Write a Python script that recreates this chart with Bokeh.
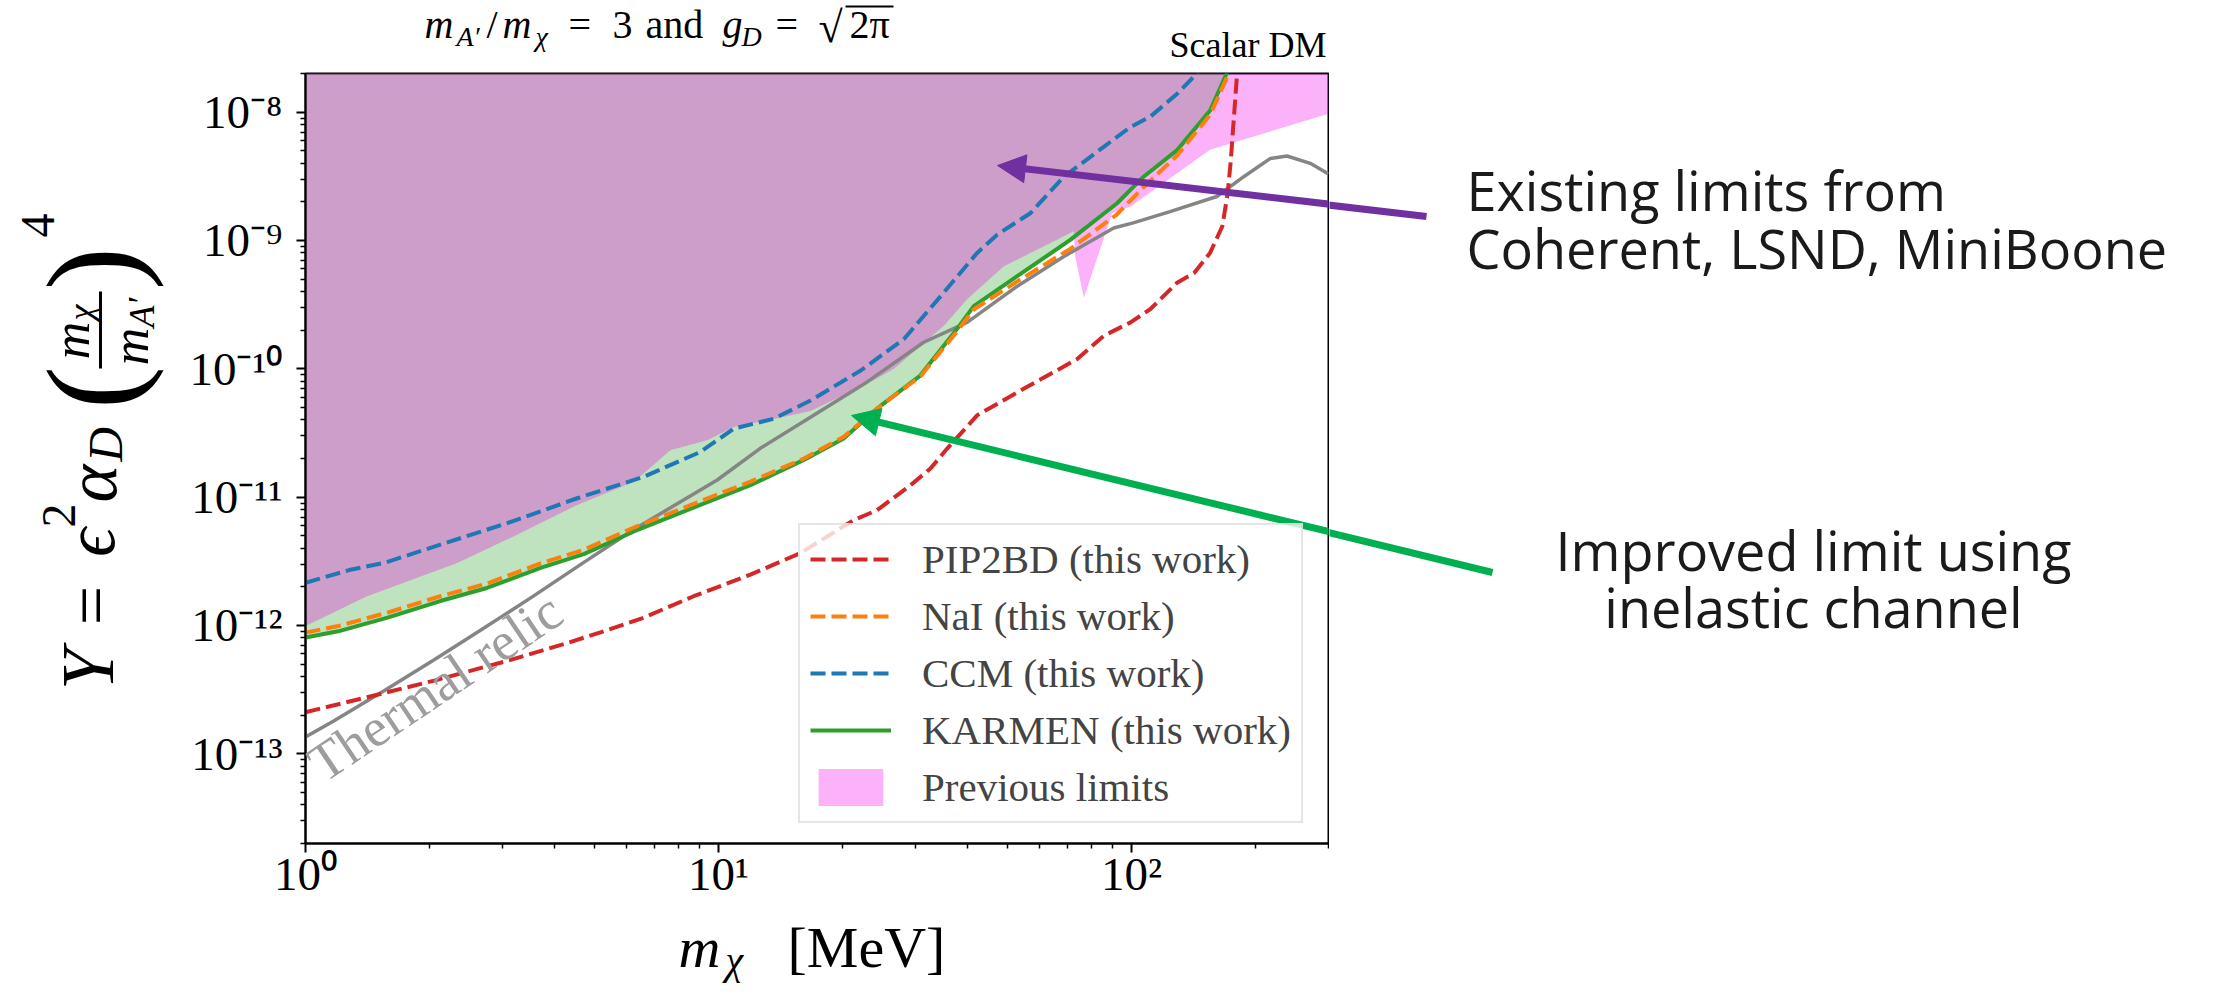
from bokeh.plotting import figure
from bokeh.layouts import column, row
from bokeh.models import (Range1d, FixedTicker, CustomJSTickFormatter, Label, Arrow,
                          NormalHead, Legend, LegendItem)
from bokeh.embed import file_html
from bokeh.resources import INLINE

# ---------------- data ----------------
karmen_x = [1.0, 1.2, 1.58, 2.12, 2.75, 3.71, 4.72, 6.24, 9.04, 11.95, 16.1, 20.1, 24.2,
            30.8, 37.8, 41.5, 52.9, 71.1, 92.3, 107, 129, 155, 170, 176]
karmen_y = [8.05e-13, 9.0e-13, 1.15e-12, 1.55e-12, 1.96e-12, 2.81e-12, 3.6e-12, 5.4e-12,
            8.7e-12, 1.24e-11, 1.95e-11, 2.86e-11, 4.89e-11, 8.85e-11, 2.04e-10, 3.08e-10,
            5.27e-10, 1.01e-9, 1.95e-9, 3.14e-9, 5.06e-9, 1.03e-8, 2.0e-8, 3.0e-8]

nai_x = [1.0, 1.2, 1.58, 2.12, 2.75, 3.71, 4.72, 6.24, 9.04, 11.95, 16.1, 20.1, 24.2,
         30.8, 37.8, 41.5, 52.9, 71.1, 92.3, 107, 129, 155, 172, 178]
nai_y = [8.8e-13, 9.9e-13, 1.26e-12, 1.69e-12, 2.12e-12, 3.05e-12, 3.89e-12, 5.8e-12,
         9.3e-12, 1.32e-11, 2.0e-11, 2.95e-11, 4.9e-11, 8.7e-11, 1.95e-10, 2.9e-10,
         4.8e-10, 8.6e-10, 1.6e-9, 2.6e-9, 4.6e-9, 9.5e-9, 2.0e-8, 3.0e-8]

ccm_x = [1.0, 1.285, 1.55, 2.12, 3.08, 4.55, 6.59, 9.04, 10.9, 13.6, 16.7, 22.1, 28.1,
         35.1, 42.3, 47.3, 56.9, 68.6, 85.7, 99.5, 111, 129, 144, 152]
ccm_y = [2.15e-12, 2.72e-12, 3.07e-12, 4.26e-12, 6.27e-12, 9.8e-12, 1.44e-11, 2.25e-11,
         3.42e-11, 4.08e-11, 5.66e-11, 9.7e-11, 1.70e-10, 3.92e-10, 8.0e-10, 1.11e-9,
         1.63e-9, 3.14e-9, 5.37e-9, 7.67e-9, 9.2e-9, 1.39e-8, 2.0e-8, 2.6e-8]

pip2bd_x = [1.0, 1.41, 2.05, 3.08, 4.22, 5.38, 6.59, 8.71, 11.95, 15.8, 21.3, 24.2, 29.2,
            32.6, 35.8, 42.3, 54.8, 73.9, 85.7, 99.5, 111, 129, 142, 155, 166, 171, 174,
            180, 182]
pip2bd_y = [2.11e-13, 2.76e-13, 3.72e-13, 5.3e-13, 7.15e-13, 9.2e-13, 1.15e-12, 1.69e-12,
            2.49e-12, 3.67e-12, 6.65e-12, 7.9e-12, 1.24e-11, 1.67e-11, 2.39e-11, 4.34e-11,
            6.98e-11, 1.19e-10, 1.81e-10, 2.30e-10, 2.91e-10, 4.69e-10, 5.6e-10, 8.0e-10,
            1.29e-9, 2.33e-9, 4.2e-9, 1.9e-8, 3.0e-8]

relic_x = [1.0, 1.17, 1.55, 2.05, 2.70, 3.57, 4.72, 6.24, 9.93, 12.6, 16.7, 22.5, 31.4,
           40, 52.9, 68.6, 90.6, 101, 124, 161, 187, 217, 238, 271, 300]
relic_y = [1.35e-13, 1.8e-13, 3.1e-13, 5.4e-13, 9.5e-13, 1.7e-12, 3.1e-12, 5.6e-12,
           1.36e-11, 2.39e-11, 4.2e-11, 7.6e-11, 1.61e-10, 2.30e-10, 4.4e-10, 7.5e-10,
           1.25e-9, 1.37e-9, 1.68e-9, 2.20e-9, 3.14e-9, 4.36e-9, 4.55e-9, 3.99e-9, 3.3e-9]

prev_x = [1.0, 1.41, 2.33, 3.19, 4.55, 6.24, 7.65, 9.39, 10.9, 13.1, 16.7, 22.9, 26.6,
          35.1, 40.0, 49.1, 61.4, 72.5, 73.1, 76.7, 89.8, 99.5, 155, 300]
prev_y = [9.9e-13, 1.69e-12, 3.07e-12, 4.94e-12, 8.7e-12, 1.32e-11, 2.32e-11, 2.77e-11,
          3.52e-11, 3.96e-11, 4.7e-11, 7.6e-11, 1.0e-10, 2.16e-10, 3.48e-10, 6.3e-10,
          9.0e-10, 1.18e-9, 7.5e-10, 3.58e-10, 1.63e-9, 1.84e-9, 5.1e-9, 9.7e-9]

x_ticks = [1, 10, 100]
x_tick_labels = ["10\u2070", "10\u00b9", "10\u00b2"]
y_ticks = [1e-13, 1e-12, 1e-11, 1e-10, 1e-9, 1e-8]
y_tick_labels = ["10\u207b\u00b9\u00b3", "10\u207b\u00b9\u00b2", "10\u207b\u00b9\u00b9",
                 "10\u207b\u00b9\u2070", "10\u207b\u2079", "10\u207b\u2078"]
legend_labels = ["PIP2BD (this work)", "NaI (this work)", "CCM (this work)",
                 "KARMEN (this work)", "Previous limits"]
relic_label = "Thermal relic"
X_MIN, X_MAX = 1, 300
Y_MIN, Y_MAX = 2e-14, 2e-8
FILL_TOP = 1e-7

SERIF = "Liberation Serif"
SANS = "Open Sans"
PURPLE = "#7030a0"
GREEN = "#00b050"

# ---------------- page geometry (pixels) ----------------
W, H = 2214, 992
TOP_H = 72                 # title strip
LEFT_W = 170               # y-label strip
FL, FR, FT, FB = 305, 1328, 73, 843     # frame edges on the page
BOT_BORDER = 68
MAIN_W = (FL - LEFT_W) + (FR - FL) + 1
MID_H = 1 + (FB - FT) + BOT_BORDER
BOT_Y = TOP_H + MID_H
RIGHT_X = LEFT_W + MAIN_W


def canvas_fig(w, h):
    f = figure(frame_width=w, frame_height=h, x_range=Range1d(0, w), y_range=Range1d(h, 0),
               min_border=0, min_border_left=0, min_border_right=0, min_border_top=0,
               min_border_bottom=0, x_axis_location=None, y_axis_location=None,
               title=None, output_backend="svg", toolbar_location=None)
    f.xgrid.visible = False
    f.ygrid.visible = False
    f.outline_line_color = None
    return f


def lab(f, x0, y0, X, Y, text, size, font=SERIF, style="normal", angle=0.0,
        align="left", color="black"):
    # Y is the vertical middle of the text line on the page
    f.add_layout(Label(x=X - x0, y=Y - y0, text=text, text_font=font,
                       text_font_style=style, text_font_size=f"{size}px", angle=angle,
                       text_align=align, text_baseline="middle", text_color=color))


def seg(f, x0, y0, X0, Y0, X1, Y1, color, width, head=None):
    f.add_layout(Arrow(x_start=X0 - x0, y_start=Y0 - y0, x_end=X1 - x0, y_end=Y1 - y0,
                       start=None, end=head, line_color=color, line_width=width))


# ---------------- main plot ----------------
p = figure(x_axis_type="log", y_axis_type="log",
           x_range=Range1d(X_MIN, X_MAX), y_range=Range1d(Y_MIN, Y_MAX),
           frame_width=FR - FL, frame_height=FB - FT,
           min_border_left=FL - LEFT_W, min_border_right=1, min_border_top=1,
           min_border_bottom=BOT_BORDER, output_backend="svg", toolbar_location=None)
p.xgrid.visible = False
p.ygrid.visible = False
p.outline_line_color = "black"
p.outline_line_width = 2

x_minor = [m * 10 ** k for k in range(0, 3) for m in range(2, 10) if m * 10 ** k <= X_MAX]
y_minor = [m * 10.0 ** k for k in range(-14, -7) for m in range(2, 10)
           if Y_MIN <= m * 10.0 ** k <= Y_MAX]
p.xaxis.ticker = FixedTicker(ticks=x_ticks, minor_ticks=x_minor)
p.yaxis.ticker = FixedTicker(ticks=y_ticks, minor_ticks=y_minor)

code = """
let best = 0, bd = 1e9;
for (let i = 0; i < vals.length; i++) {
  const d = Math.abs(Math.log10(tick) - Math.log10(vals[i]));
  if (d < bd) { bd = d; best = i; }
}
return bd < 0.01 ? labs[best] : "";
"""
p.xaxis.formatter = CustomJSTickFormatter(args=dict(vals=x_ticks, labs=x_tick_labels), code=code)
p.yaxis.formatter = CustomJSTickFormatter(args=dict(vals=y_ticks, labs=y_tick_labels), code=code)

for ax in (p.xaxis[0], p.yaxis[0]):
    ax.major_label_text_font = SERIF
    ax.major_label_text_font_size = "47px"
    ax.major_label_text_color = "black"
    ax.major_tick_in = 0
    ax.major_tick_out = 9
    ax.minor_tick_in = 0
    ax.minor_tick_out = 5
    ax.major_tick_line_width = 2
    ax.minor_tick_line_width = 1.5
    ax.axis_line_width = 2
p.xaxis.major_label_standoff = -5
p.yaxis.major_label_standoff = 14

p.varea(x=karmen_x, y1=karmen_y, y2=[FILL_TOP] * len(karmen_x),
        fill_color="#2ca02c", fill_alpha=0.3)
prev = p.varea(x=prev_x, y1=prev_y, y2=[FILL_TOP] * len(prev_x),
               fill_color="#f200e8", fill_alpha=0.3)

p.line(relic_x, relic_y, line_color="#858585", line_width=3.5)
r_karmen = p.line(karmen_x, karmen_y, line_color="#2ca02c", line_width=4)
r_nai = p.line(nai_x, nai_y, line_color="#ff7f0e", line_width=4, line_dash="15 6")
r_ccm = p.line(ccm_x, ccm_y, line_color="#1f77b4", line_width=4, line_dash="15 6")
r_pip = p.line(pip2bd_x, pip2bd_y, line_color="#d62728", line_width=4, line_dash="15 6")

p.add_layout(Label(x=2.06, y=3.3e-13, text=relic_label, angle=0.593,
                   text_font=SERIF, text_font_size="54px", text_color="#9d9d9d",
                   text_align="center", text_baseline="middle"))

legend = Legend(items=[LegendItem(label=legend_labels[0], renderers=[r_pip]),
                       LegendItem(label=legend_labels[1], renderers=[r_nai]),
                       LegendItem(label=legend_labels[2], renderers=[r_ccm]),
                       LegendItem(label=legend_labels[3], renderers=[r_karmen]),
                       LegendItem(label=legend_labels[4], renderers=[prev])],
                location=(493, 20), orientation="vertical",
                label_text_font=SERIF, label_text_font_size="41px",
                glyph_width=81, glyph_height=46, label_height=46, label_standoff=31,
                spacing=9, padding=10, margin=0,
                border_line_color="#cccccc", border_line_width=2,
                background_fill_color="white", background_fill_alpha=0.8)
p.add_layout(legend, "center")

# arrows: the part with the head inside the frame (frame-relative screen pixels)
ARROWS = [(1426, 215, 997, 165, PURPLE), (1492, 571, 851, 415, GREEN)]
for (tx, ty, hx, hy, col) in ARROWS:
    p.add_layout(Arrow(x_start=tx - FL, y_start=FB - ty, x_end=hx - FL, y_end=FB - hy,
                       start_units="screen", end_units="screen", start=None,
                       end=NormalHead(size=28, fill_color=col, line_color=col, line_width=1),
                       line_color=col, line_width=7))

# ---------------- title strip ----------------
top = canvas_fig(W, TOP_H)
for X, Y, txt, sz, st in [(424, 24, "m", 40, "italic"), (456, 36, "A\u2032", 28, "italic"),
                          (486, 24, "/", 40, "normal"), (502, 24, "m", 40, "italic"),
                          (535, 36, "\u03c7", 28, "italic"), (568, 24, "=", 40, "normal"),
                          (612, 24, "3", 40, "normal"), (645, 24, "and", 40, "normal"),
                          (722, 24, "g", 40, "italic"), (741, 36, "D", 28, "italic"),
                          (775, 24, "=", 40, "normal"), (818, 27, "\u221a", 44, "normal"),
                          (849, 24, "2\u03c0", 40, "normal")]:
    lab(top, 0, 0, X, Y, txt, sz, style=st)
seg(top, 0, 0, 845, 6, 893, 6, "black", 2)
lab(top, 0, 0, 1326, 44, "Scalar DM", 36, align="right")

# ---------------- y-label strip ----------------
left = canvas_fig(LEFT_W, MID_H)
R = 1.5708
for X, Y, txt, sz, st in [(87, 668, "Y", 74, "italic"), (91, 604, "=", 70, "normal"),
                          (89, 541, "\u03f5", 72, "italic"), (58, 514, "2", 48, "normal"),
                          (91, 482, "\u03b1", 72, "italic"), (105, 443, "D", 48, "italic"),
                          (91, 386, "(", 130, "normal"),
                          (71, 339, "m", 52, "italic"), (80, 311, "\u03c7", 36, "italic"),
                          (130, 345, "m", 52, "italic"), (141, 311, "A\u2032", 36, "italic"),
                          (91, 267, ")", 130, "normal"), (37, 224, "4", 48, "normal")]:
    lab(left, 0, TOP_H, X, Y, txt, sz, style=st, angle=R, align="center")
seg(left, 0, TOP_H, 100, 367, 100, 290, "black", 3)

# ---------------- right strip (annotations) ----------------
right = canvas_fig(W - RIGHT_X, MID_H)
for (tx, ty, hx, hy, col) in ARROWS:
    seg(right, RIGHT_X, TOP_H, tx, ty, hx, hy, col, 7)
lab(right, RIGHT_X, TOP_H, 1466, 188, "Existing limits from", 54, font=SANS, color="#1a1a1a")
lab(right, RIGHT_X, TOP_H, 1466, 246, "Coherent, LSND, MiniBoone", 54, font=SANS,
    color="#1a1a1a")
lab(right, RIGHT_X, TOP_H, 1813, 548, "Improved limit using", 54, font=SANS, align="center",
    color="#1a1a1a")
lab(right, RIGHT_X, TOP_H, 1813, 605, "inelastic channel", 54, font=SANS, align="center",
    color="#1a1a1a")

# ---------------- x-label strip ----------------
bottom = canvas_fig(W, H - BOT_Y)
lab(bottom, 0, BOT_Y, 678, 947, "m", 58, style="italic")
lab(bottom, 0, BOT_Y, 725, 960, "\u03c7", 40, style="italic")
lab(bottom, 0, BOT_Y, 787, 947, "[MeV]", 58)

layout = column(top, row(left, p, right), bottom)
open("out.html", "w").write(file_html(layout, INLINE))
